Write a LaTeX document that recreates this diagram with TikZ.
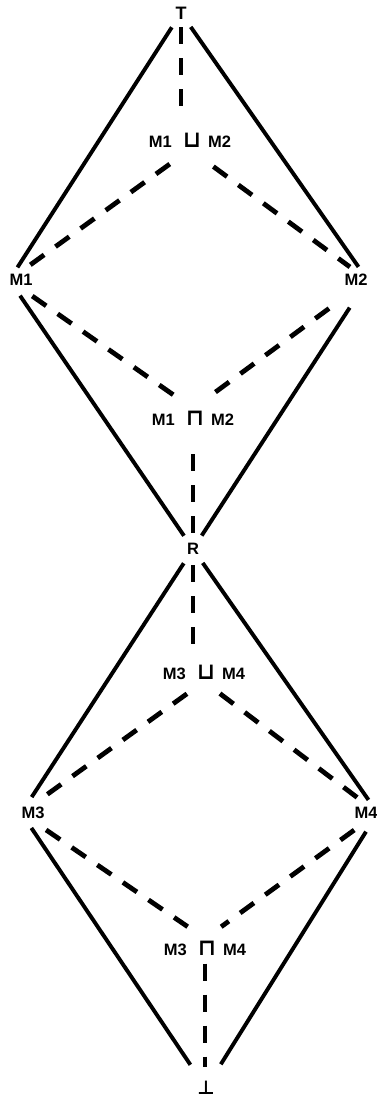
\documentclass[tikz,border=0pt]{standalone}
\usepackage{fontspec}
\setmainfont{Liberation Sans}
\newfontfamily\symfont{DejaVu Sans}
\newcommand{\joinop}{{\symfont\bfseries\fontsize{23}{26}\selectfont ⊔}}
\newcommand{\meetop}{{\symfont\bfseries\fontsize{23}{26}\selectfont ⊓}}

\begin{document}
\begin{tikzpicture}[x=1pt, y=-1pt,
  lbl/.style={font=\fontsize{16.5}{20}\selectfont\bfseries, inner xsep=0pt, inner ysep=2pt},
  solidline/.style={line width=3.9pt},
  dashline/.style={line width=4.8pt, dash pattern=on 17pt off 14pt}]

  \useasboundingbox (0,0) rectangle (377,1101);

  % Upper diamond
  \node[lbl, font=\fontsize{18}{20}\selectfont\bfseries] (T) at (181,13) {T};
  \node[lbl] (join1) at (190,140) {M1\hspace{11pt}\joinop\hspace{7pt}M2};
  \node[lbl] (M1) at (21,280) {M1};
  \node[lbl] (M2) at (356,280) {M2};
  \node[lbl] (meet1) at (193,418) {M1\hspace{11pt}\meetop\hspace{7pt}M2};
  \node[lbl] (R) at (193,549) {R};

  % Lower diamond
  \node[lbl] (join2) at (204,672) {M3\hspace{11pt}\joinop\hspace{7pt}M4};
  \node[lbl] (M3) at (33,813) {M3};
  \node[lbl] (M4) at (366,813) {M4};
  \node[lbl] (meet2) at (205,948) {M3\hspace{11pt}\meetop\hspace{7pt}M4};
  \node[lbl] (bot) at (206,1088) {\symfont\fontsize{19}{22}\selectfont ⊥};

  % Solid order lines, upper
  \draw[solidline, shorten <=17pt, shorten >=15pt] (T.center) -- (M1.west);
  \draw[solidline, shorten <=17pt, shorten >=16pt] (T.center) -- (M2.east);
  \draw[solidline, shorten <=19pt, shorten >=16pt] (M1.west) -- (R.center);
  \draw[solidline, shorten <=33pt, shorten >=16pt] (M2.east) -- (R.center);

  % Dashed lines, upper
  \draw[dashline, shorten <=14pt, shorten >=24pt] (T.center) -- (T.center |- join1.north);
  \draw[dashline, shorten <=25pt, shorten >=22pt] (join1.south) -- (M1.west);
  \draw[dashline, shorten <=29pt, shorten >=22pt] (join1.south) -- (M2.east);
  \draw[dashline, shorten <=28pt, shorten >=17pt] (M1.west) -- (meet1.north);
  \draw[dashline, shorten <=48pt, shorten >=17pt] (M2.east) -- (meet1.north);
  \draw[dashline, shorten <=27pt, shorten >=13pt] (meet1.south) -- (meet1.south |- R.center);

  % Solid order lines, lower
  \draw[solidline, shorten <=17pt, shorten >=19pt] (R.center) -- (M3.west);
  \draw[solidline, shorten <=17pt, shorten >=16pt] (R.center) -- (M4.east);
  \draw[solidline, shorten <=18pt, shorten >=28pt] (M3.west) -- (bot.center);
  \draw[solidline, shorten <=22pt, shorten >=28pt] (M4.east) -- (bot.center);

  % Dashed lines, lower
  \draw[dashline, shorten <=16pt, shorten >=19pt] (R.center) -- (R.center |- join2.north);
  \draw[dashline, shorten <=21pt, shorten >=22pt] (join2.south) -- (M3.west);
  \draw[dashline, shorten <=20pt, shorten >=22pt] (join2.south) -- (M4.east);
  \draw[dashline, shorten <=30pt, shorten >=21pt] (M3.west) -- (meet2.north);
  \draw[dashline, shorten <=29pt, shorten >=20pt] (M4.east) -- (meet2.north);
  \draw[dashline, shorten <=6pt, shorten >=21pt] (meet2.south) -- (meet2.south |- bot.center);

\end{tikzpicture}
\end{document}
